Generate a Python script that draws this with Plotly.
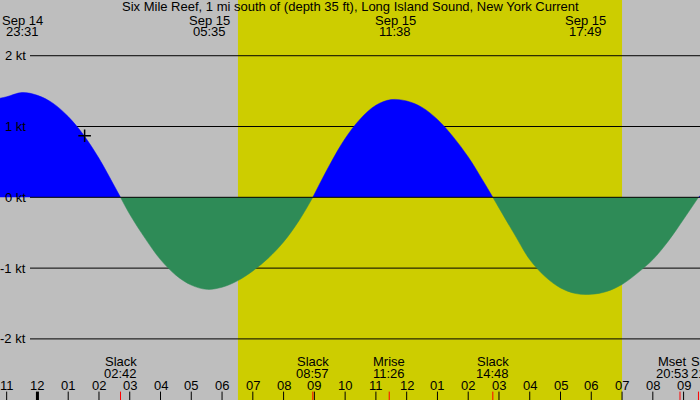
import pandas as pd
import plotly.graph_objects as go

title = "Six Mile Reef, 1 mi south of (depth 35 ft), Long Island Sound, New York Current"

# current speed (kt), flood > 0, ebb < 0
curve_times = [
    "2023-09-14 22:47", "2023-09-14 23:00", "2023-09-14 23:30",
    "2023-09-15 00:00", "2023-09-15 00:30", "2023-09-15 01:00", "2023-09-15 01:30",
    "2023-09-15 02:00", "2023-09-15 02:30", "2023-09-15 02:42",
    "2023-09-15 03:00", "2023-09-15 03:30", "2023-09-15 04:00", "2023-09-15 04:30",
    "2023-09-15 05:00", "2023-09-15 05:30", "2023-09-15 06:00", "2023-09-15 06:30",
    "2023-09-15 07:00", "2023-09-15 07:30", "2023-09-15 08:00", "2023-09-15 08:30",
    "2023-09-15 08:57",
    "2023-09-15 09:30", "2023-09-15 10:00", "2023-09-15 10:30", "2023-09-15 11:00",
    "2023-09-15 11:30", "2023-09-15 12:00", "2023-09-15 12:30", "2023-09-15 13:00",
    "2023-09-15 13:30", "2023-09-15 14:00", "2023-09-15 14:30", "2023-09-15 14:48",
    "2023-09-15 15:00", "2023-09-15 15:30", "2023-09-15 16:00", "2023-09-15 16:30",
    "2023-09-15 17:00", "2023-09-15 17:30", "2023-09-15 18:00", "2023-09-15 18:30",
    "2023-09-15 19:00", "2023-09-15 19:30", "2023-09-15 20:00", "2023-09-15 20:30",
    "2023-09-15 21:00", "2023-09-15 21:29", "2023-09-15 21:32",
]
curve_kt = [
    1.40, 1.42, 1.48,
    1.44, 1.33, 1.14, 0.88,
    0.55, 0.16, 0.0,
    -0.24, -0.58, -0.88, -1.10,
    -1.24, -1.30, -1.27, -1.18,
    -1.04, -0.86, -0.63, -0.33,
    0.0,
    0.46, 0.83, 1.11, 1.30,
    1.38, 1.36, 1.27, 1.10,
    0.86, 0.57, 0.22, 0.0,
    -0.15, -0.52, -0.88, -1.12,
    -1.28, -1.36, -1.37, -1.33,
    -1.23, -1.07, -0.88, -0.62,
    -0.31, 0.0, 0.02,
]

# max / min current labels at the top
peak_times = ["2023-09-14 23:31", "2023-09-15 05:35", "2023-09-15 11:38", "2023-09-15 17:49"]
peak_dates = ["Sep 14", "Sep 15", "Sep 15", "Sep 15"]
peak_labels = ["23:31", "05:35", "11:38", "17:49"]

# events along the bottom
event_times = ["2023-09-15 02:42", "2023-09-15 08:57", "2023-09-15 11:26",
               "2023-09-15 14:48", "2023-09-15 20:53", "2023-09-15 21:29"]
event_names = ["Slack", "Slack", "Mrise", "Slack", "Mset", "Slack"]
event_labels = ["02:42", "08:57", "11:26", "14:48", "20:53", "21:29"]
event_shift = [0, 0, 0, 0, -8, 9]

hour_ticks = pd.date_range("2023-09-14 23:00", "2023-09-15 21:00", freq="h")
hour_labels = ["11", "12", "01", "02", "03", "04", "05", "06", "07", "08", "09", "10",
               "11", "12", "01", "02", "03", "04", "05", "06", "07", "08", "09"]

kt_levels = [2, 1, 0, -1, -2]
kt_labels = ["2 kt", "1 kt", "0 kt", "-1 kt", "-2 kt"]

sunrise, sunset = "2023-09-15 06:31", "2023-09-15 19:00"
now_time, now_kt = "2023-09-15 01:32", 0.87

x_range = ["2023-09-14 22:47", "2023-09-15 21:32"]
y_range = [-2.863, 2.787]

FONT = "Liberation Sans, Arial, sans-serif"
BLUE = "#0000FF"
GREEN = "#2E8B57"

fig = go.Figure()

# split the curve into flood / ebb pieces at each slack
segments = []
cur_x, cur_y = [], []
for t, v in zip(curve_times, curve_kt):
    cur_x.append(t)
    cur_y.append(v)
    if v == 0 and len(cur_x) > 1:
        segments.append((cur_x, cur_y))
        cur_x, cur_y = [t], [v]
if len(cur_x) > 1:
    segments.append((cur_x, cur_y))

for xs, ys in segments:
    flood = max(ys, key=abs) > 0
    col = BLUE if flood else GREEN
    fig.add_trace(go.Scatter(
        x=xs, y=ys, mode="lines", fill="tozeroy", fillcolor=col,
        line=dict(color=col, width=0.5, shape="spline", smoothing=1),
        hoverinfo="skip", showlegend=False,
    ))

fig.add_trace(go.Scatter(
    x=[now_time], y=[now_kt], mode="markers",
    marker=dict(symbol="cross-thin", size=9, line=dict(color="black", width=1.5)),
    hoverinfo="skip", showlegend=False,
))

shapes = []
# daylight band
shapes.append(dict(type="rect", xref="x", yref="paper", x0=sunrise, x1=sunset, y0=0, y1=1,
                   fillcolor="#CDCD00", line=dict(width=0), layer="below"))
# kt lines
for lv in kt_levels:
    shapes.append(dict(type="line", xref="paper", yref="y", x0=30 / 700, x1=1, y0=lv, y1=lv,
                       line=dict(color="black", width=1),
                       layer="above" if lv == 0 else "below"))
# hour ticks
for t in hour_ticks:
    shapes.append(dict(type="line", xref="x", yref="paper", x0=t, x1=t, y0=0, y1=0.021,
                       line=dict(color="black", width=3 if t.hour == 0 else 1)))
# event ticks
for t in event_times:
    shapes.append(dict(type="line", xref="x", yref="paper", x0=t, x1=t, y0=0, y1=0.021,
                       line=dict(color="red", width=1)))

annotations = [dict(text=title, x=0.5, y=1 - 7 / 400, xref="paper", yref="paper",
                    showarrow=False, yanchor="middle")]
for lv, lab in zip(kt_levels, kt_labels):
    annotations.append(dict(text=lab, x=28 / 700, xref="paper", y=lv, yref="y",
                            xanchor="right", yanchor="middle", showarrow=False))
for t, d, lab in zip(peak_times, peak_dates, peak_labels):
    annotations.append(dict(text=d, x=t, xref="x", y=1 - 20 / 400, yref="paper",
                            yanchor="middle", showarrow=False))
    annotations.append(dict(text=lab, x=t, xref="x", y=1 - 32 / 400, yref="paper",
                            yanchor="middle", showarrow=False))
for t, n, lab, sh in zip(event_times, event_names, event_labels, event_shift):
    annotations.append(dict(text=n, x=t, xref="x", y=1 - 361.5 / 400, yref="paper",
                            yanchor="middle", xshift=sh, showarrow=False))
    annotations.append(dict(text=lab, x=t, xref="x", y=1 - 373.5 / 400, yref="paper",
                            yanchor="middle", xshift=sh, showarrow=False))
for t, lab in zip(hour_ticks, hour_labels):
    annotations.append(dict(text=lab, x=t, xref="x", y=1 - 385.5 / 400, yref="paper",
                            yanchor="middle", showarrow=False))

fig.update_layout(
    width=700, height=400,
    margin=dict(l=0, r=0, t=0, b=0),
    paper_bgcolor="#BEBEBE", plot_bgcolor="#BEBEBE",
    font=dict(family=FONT, size=13, color="black"),
    xaxis=dict(type="date", range=x_range, visible=False, fixedrange=True),
    yaxis=dict(range=y_range, visible=False, fixedrange=True),
    shapes=shapes, annotations=annotations,
    showlegend=False,
)

fig.write_html("out.html", config={"displayModeBar": False},
               post_script="document.body.style.margin='0';document.body.style.overflow='hidden';")
